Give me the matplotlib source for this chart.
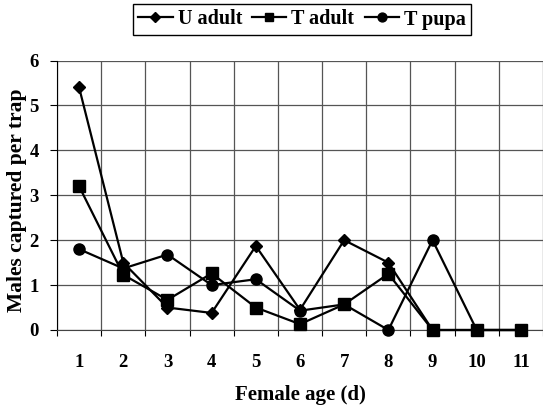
import matplotlib.pyplot as plt
import numpy as np

plt.rcParams['font.family'] = ['Liberation Serif', 'DejaVu Serif']
plt.rcParams['font.weight'] = 'bold'

# 데이터
age = [1, 2, 3, 4, 5, 6, 7, 8, 9, 10, 11]
u_adult = [5.4, 1.5, 0.5, 0.38, 1.87, 0.45, 2.0, 1.5, 0, 0, 0]
t_adult = [3.2, 1.23, 0.67, 1.26, 0.5, 0.13, 0.57, 1.25, 0, 0, 0]
t_pupa = [1.8, 1.37, 1.68, 1.0, 1.13, 0.43, 0.57, 0, 2.0, 0, 0]

fig = plt.figure(figsize=(5.43, 4.08), dpi=100)
ax = fig.add_axes([57/543, 1-330/408, 1-57/543, (330-60.5)/408])

ax.plot(age, u_adult, 'k-', marker='D', ms=6.5, lw=1.6, label='U adult', clip_on=False, zorder=3)
ax.plot(age, t_pupa, 'k-', marker='o', ms=8, lw=1.6, label='T pupa', clip_on=False, zorder=4)
ax.plot(age, t_adult, 'k-', marker='s', ms=8, lw=1.6, label='T adult', clip_on=False, zorder=5)

ax.set_xlim(0.5, 0.5 + (543-57)/44.5)
ax.set_ylim(0, 6)
ax.set_xticks(age)
ax.set_xticks(np.arange(0.5, 11.6, 1.0), minor=True)
ax.set_yticks(range(0, 7))
ax.tick_params(axis='x', which='major', length=0, labelsize=13.5, pad=17)
ax.tick_params(axis='x', which='minor', length=4, width=0.8, direction='out')
ax.tick_params(axis='y', length=5, width=0.8, labelsize=13.5, pad=8)

ax.grid(True, axis='x', which='minor', color='#555555', lw=0.9)
ax.grid(True, axis='y', which='major', color='#555555', lw=0.9)
for s in ['top', 'right']:
    ax.spines[s].set_visible(False)
ax.spines['bottom'].set_color('#444444')
ax.spines['left'].set_color('black')

# 축 제목
fig.text(300/543, 1-395/408, 'Female age (d)', fontsize=15, fontweight='bold',
         ha='center', va='center')
fig.text(17/543, 1-200/408, 'Males captured per trap', fontsize=15.5, fontweight='bold',
         ha='center', va='center', rotation=90)

h, l = ax.get_legend_handles_labels()
order = [0, 2, 1]
fig.legend([h[i] for i in order], [l[i] for i in order], loc='center',
           bbox_to_anchor=(302/543, 1-19.5/408), ncol=3, fontsize=14.5,
           frameon=True, fancybox=False, edgecolor='black', framealpha=1,
           handlelength=1.7, handletextpad=0.25, columnspacing=0.5,
           borderpad=0.25, markerscale=0.8)

fig.savefig('out.png', dpi=100)
